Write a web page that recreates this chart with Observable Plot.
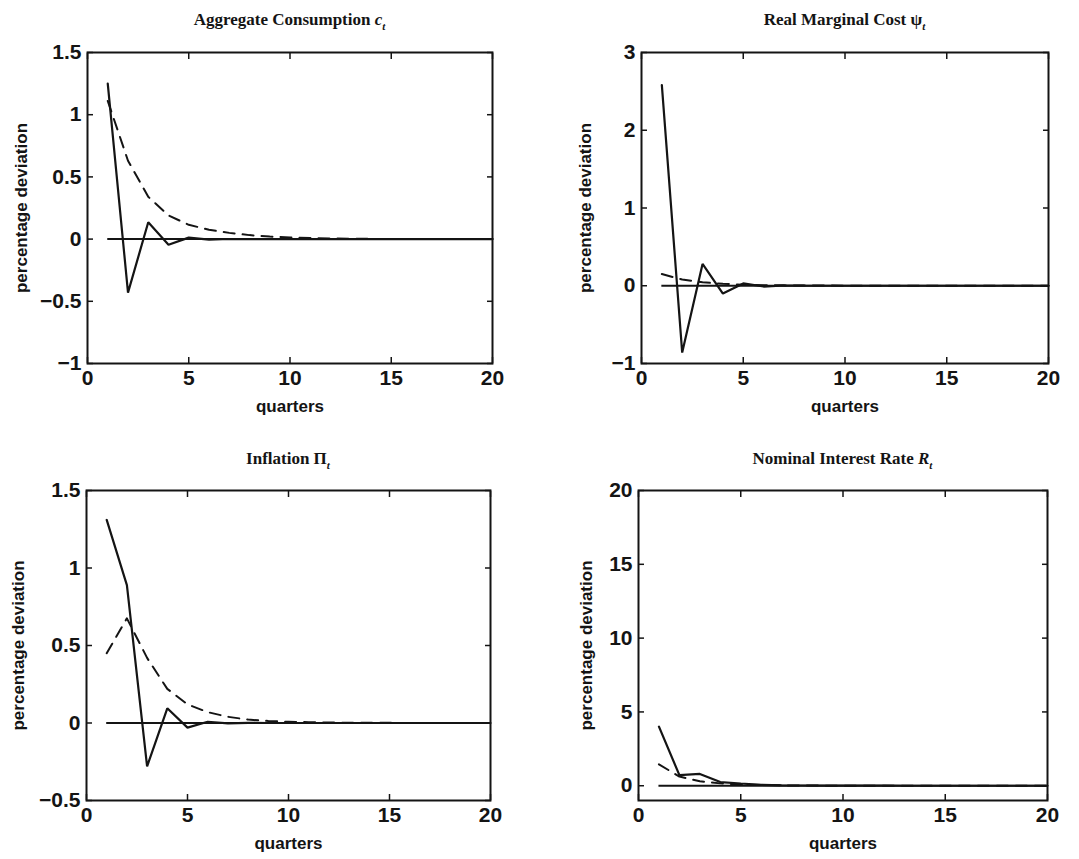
<!DOCTYPE html>
<html>
<head>
<meta charset="utf-8">
<script src="https://cdn.jsdelivr.net/npm/d3@7"></script>
<script src="https://cdn.jsdelivr.net/npm/@observablehq/plot@0.6"></script>
<style>
  html, body { margin: 0; padding: 0; background: #fff; }
  #wrap { position: relative; width: 1079px; height: 859px; overflow: hidden; background: #fff; }
  .panel { position: absolute; }
  .title { position: absolute; width: 440px; text-align: center; white-space: nowrap;
           font-family: "Liberation Serif", "Times New Roman", serif; font-weight: bold;
           font-size: 17px; line-height: 20px; color: #141414; }
  .title sub { font-size: 11px; vertical-align: -5px; font-style: italic; }
  svg g[aria-label="x-axis label"] text, svg g[aria-label="y-axis label"] text { font-size: 17px; }
</style>
</head>
<body>
<div id="wrap"></div>
<script>
// ---- data ----
const quarters = [1, 2, 3, 4, 5, 6, 7, 8, 9, 10, 11, 12, 13, 14, 15, 16, 17, 18, 19, 20];
const xTicks = [0, 5, 10, 15, 20];

const consumptionSolid  = [1.25, -0.43, 0.135, -0.045, 0.012, -0.004, 0.001, 0, 0, 0, 0, 0, 0, 0, 0, 0, 0, 0, 0, 0];
const consumptionDashed = [1.11, 0.63, 0.34, 0.19, 0.115, 0.075, 0.05, 0.032, 0.02, 0.013, 0.008, 0.005, 0.003, 0.002, 0.001, 0.001, 0, 0, 0, 0];
const consumptionTicks  = [-1, -0.5, 0, 0.5, 1, 1.5];

const costSolid  = [2.58, -0.86, 0.28, -0.1, 0.03, -0.01, 0.003, 0.001, 0, 0, 0, 0, 0, 0, 0, 0, 0, 0, 0, 0];
const costDashed = [0.15, 0.08, 0.045, 0.025, 0.014, 0.008, 0.005, 0.003, 0.002, 0.001, 0, 0, 0, 0, 0, 0, 0, 0, 0, 0];
const costTicks  = [-1, 0, 1, 2, 3];

const inflationSolid  = [1.31, 0.89, -0.28, 0.095, -0.03, 0.008, -0.002, 0.001, 0, 0, 0, 0, 0, 0, 0, 0, 0, 0, 0, 0];
const inflationDashed = [0.45, 0.675, 0.42, 0.22, 0.12, 0.07, 0.04, 0.022, 0.013, 0.008, 0.005, 0.003, 0.002, 0.001, 0.001, 0, 0, 0, 0, 0];
const inflationTicks  = [-0.5, 0, 0.5, 1, 1.5];

const rateSolid  = [4.0, 0.72, 0.8, 0.25, 0.15, 0.06, 0.03, 0.015, 0.008, 0.004, 0.002, 0.001, 0, 0, 0, 0, 0, 0, 0, 0];
const rateDashed = [1.45, 0.62, 0.3, 0.16, 0.09, 0.05, 0.028, 0.015, 0.008, 0.004, 0.002, 0.001, 0, 0, 0, 0, 0, 0, 0, 0];
const rateTicks  = [0, 5, 10, 15, 20];

const titles = [
  'Aggregate Consumption <i>c</i><sub>t</sub>',
  'Real Marginal Cost \u03C8<sub>t</sub>',
  'Inflation \u03A0<sub>t</sub>',
  'Nominal Interest Rate <i>R</i><sub>t</sub>'
];
const xLabel = "quarters";
const yLabel = "percentage deviation";

// ---- layout ----
const ink = "#141414";
const panels = [
  {solid: consumptionSolid, dashed: consumptionDashed, yDomain: [-1, 1.5], yTicks: consumptionTicks, title: titles[0],
   left: 0, top: 0, w: 540, h: 425, ml: 87, mr: 48, mt: 52, mb: 62, lo: 73, titleTop: 10},
  {solid: costSolid, dashed: costDashed, yDomain: [-1, 3], yTicks: costTicks, title: titles[1],
   left: 540, top: 0, w: 539, h: 425, ml: 101, mr: 31, mt: 52, mb: 62, lo: 63, titleTop: 10},
  {solid: inflationSolid, dashed: inflationDashed, yDomain: [-0.5, 1.5], yTicks: inflationTicks, title: titles[2],
   left: 0, top: 430, w: 540, h: 429, ml: 86, mr: 50, mt: 60, mb: 59, lo: 75, titleTop: 449},
  {solid: rateSolid, dashed: rateDashed, yDomain: [-1, 20], yTicks: rateTicks, title: titles[3],
   left: 540, top: 430, w: 539, h: 429, ml: 98, mr: 32, mt: 60, mb: 59, lo: 59, titleTop: 449}
];

const fmt = d => (d < 0 ? "\u2212" : "") + String(Math.abs(d));
const blank = () => "";
const wrap = document.getElementById("wrap");

for (const p of panels) {
  const rows = quarters.map((q, i) => ({q, solid: p.solid[i], dashed: p.dashed[i]}));
  const chart = Plot.plot({
    width: p.w, height: p.h,
    marginLeft: p.ml, marginRight: p.mr, marginTop: p.mt, marginBottom: p.mb,
    style: {fontFamily: "'Liberation Sans', Arial, Helvetica, sans-serif", fontSize: "21px", fontWeight: "bold",
            color: ink, background: "transparent", overflow: "visible"},
    x: {domain: [0, 20]},
    y: {domain: p.yDomain},
    marks: [
      Plot.ruleY([0], {x1: quarters[0], x2: quarters[quarters.length - 1], stroke: ink, strokeWidth: 2}),
      Plot.line(rows, {x: "q", y: "dashed", stroke: ink, strokeWidth: 2, strokeDasharray: "11,8"}),
      Plot.line(rows, {x: "q", y: "solid", stroke: ink, strokeWidth: 2.2, strokeLinejoin: "miter"}),
      Plot.frame({stroke: ink, strokeWidth: 2}),
      Plot.axisX(xTicks, {anchor: "bottom", tickSize: 0, tickPadding: 7, tickFormat: fmt, label: xLabel, labelAnchor: "center", labelOffset: 48, labelArrow: "none"}),
      Plot.axisX(xTicks, {anchor: "bottom", tickSize: 6, dy: -6, tickFormat: blank, label: null, strokeWidth: 1.5}),
      Plot.axisX(xTicks, {anchor: "top", tickSize: 6, dy: 6, tickFormat: blank, label: null, strokeWidth: 1.5}),
      Plot.axisY(p.yTicks, {anchor: "left", tickSize: 0, tickPadding: 6, tickFormat: fmt, label: yLabel, labelAnchor: "center", labelOffset: p.lo, labelArrow: "none"}),
      Plot.axisY(p.yTicks, {anchor: "left", tickSize: 6, dx: 6, tickFormat: blank, label: null, strokeWidth: 1.5}),
      Plot.axisY(p.yTicks, {anchor: "right", tickSize: 6, dx: -6, tickFormat: blank, label: null, strokeWidth: 1.5})
    ]
  });
  chart.classList.add("panel");
  chart.style.left = p.left + "px";
  chart.style.top = p.top + "px";
  wrap.appendChild(chart);

  const t = document.createElement("div");
  t.className = "title";
  t.innerHTML = p.title;
  const cx = p.left + p.ml + (p.w - p.ml - p.mr) / 2;
  t.style.left = (cx - 220) + "px";
  t.style.top = p.titleTop + "px";
  wrap.appendChild(t);
}
</script>
</body>
</html>
